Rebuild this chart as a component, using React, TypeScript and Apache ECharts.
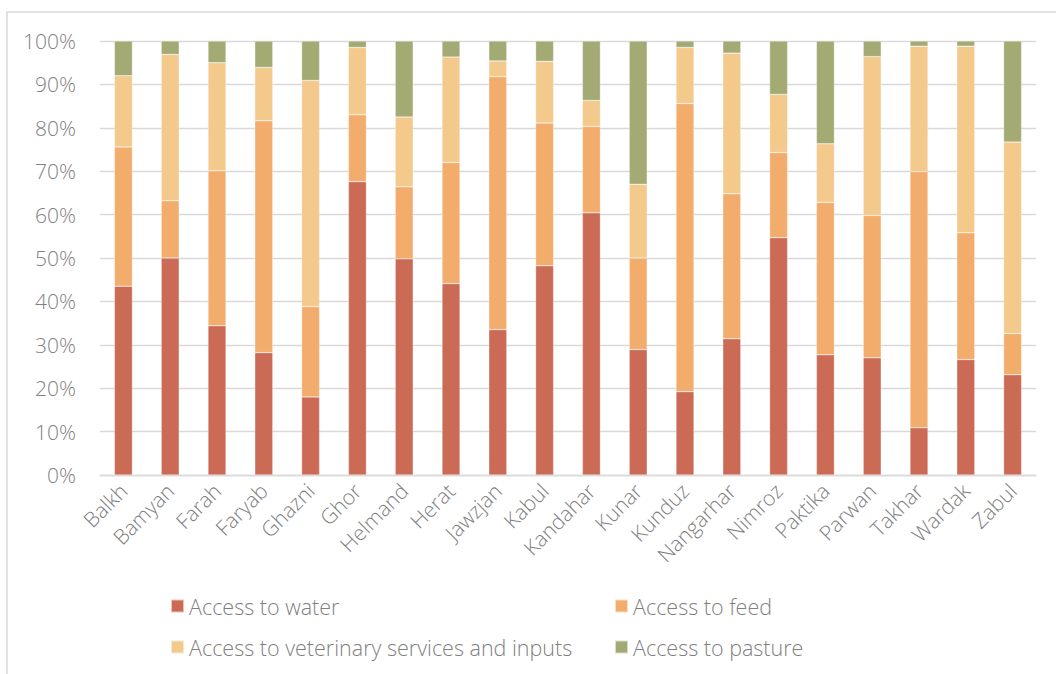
import React, { useEffect, useRef } from "react";
import * as echarts from "echarts";

const provinces = ["Balkh", "Bamyan", "Farah", "Faryab", "Ghazni", "Ghor", "Helmand", "Herat", "Jawzjan", "Kabul", "Kandahar", "Kunar", "Kunduz", "Nangarhar", "Nimroz", "Paktika", "Parwan", "Takhar", "Wardak", "Zabul"];
const water = [43.5, 50.0, 34.4, 28.2, 18.0, 67.6, 49.8, 44.1, 33.5, 48.2, 60.4, 28.9, 19.2, 31.4, 54.7, 27.7, 27.0, 10.9, 26.6, 23.1];
const feed = [32.1, 13.2, 35.7, 53.4, 20.8, 15.4, 16.6, 27.9, 58.3, 32.9, 19.9, 21.1, 66.4, 33.4, 19.6, 35.1, 32.8, 59.0, 29.2, 9.5];
const vet = [16.4, 33.7, 24.9, 12.3, 52.1, 15.5, 16.1, 24.3, 3.6, 14.2, 6.0, 17.0, 12.9, 32.4, 13.4, 13.5, 36.6, 28.9, 43.0, 44.1];
const pasture = [8.0, 3.1, 5.0, 6.1, 9.1, 1.5, 17.5, 3.7, 4.6, 4.7, 13.7, 33.0, 1.5, 2.8, 12.3, 23.7, 3.6, 1.2, 1.2, 23.3];
const seriesNames = ["Access to water", "Access to feed", "Access to veterinary services and inputs", "Access to pasture"];
const colors = ["#CB6B56", "#F2AC6C", "#F3C98C", "#A4AA74"];

const FONT = "'Open Sans', sans-serif";
const GRAY = "#7F7F7F";

export default function App() {
  const ref = useRef<HTMLDivElement>(null);
  useEffect(() => {
    if (!ref.current) return;
    const chart = echarts.init(ref.current, null, { renderer: "svg" });
    const values = [water, feed, vet, pasture];
    const legendCommon = {
      orient: "vertical",
      top: 595,
      padding: 0,
      itemGap: 19,
      itemWidth: 13,
      itemHeight: 13,
      icon: "rect",
      textStyle: { color: GRAY, fontSize: 21.5, lineHeight: 22, fontFamily: FONT, fontWeight: 300 },
    };
    chart.setOption({
      animation: false,
      color: colors,
      graphic: [
        {
          type: "rect",
          shape: { x: 7, y: 12, width: 1070, height: 700 },
          style: { fill: "none", stroke: "#D9D9D9", lineWidth: 1.5 },
          silent: true,
        },
      ],
      grid: { left: 100, right: 20, top: 41, bottom: 199 },
      legend: [
        { ...legendCommon, data: [seriesNames[0], seriesNames[2]], left: 170 },
        { ...legendCommon, data: [seriesNames[1], seriesNames[3]], left: 614 },
      ],
      xAxis: {
        type: "category",
        data: provinces,
        axisLine: { lineStyle: { color: "#D9D9D9", width: 1.3 } },
        axisTick: { show: false },
        axisLabel: {
          rotate: 45,
          color: GRAY,
          fontSize: 21,
          fontFamily: FONT,
          fontWeight: 300,
          margin: 12,
          interval: 0,
        },
      },
      yAxis: {
        type: "value",
        min: 0,
        max: 100,
        interval: 10,
        axisLine: { show: false },
        axisTick: { show: false },
        axisLabel: {
          formatter: "{value}%",
          color: GRAY,
          fontSize: 21,
          fontFamily: FONT,
          fontWeight: 300,
          margin: 24,
        },
        splitLine: { lineStyle: { color: "#D9D9D9", width: 1.3 } },
      },
      series: seriesNames.map((name, i) => ({
        name,
        type: "bar",
        stack: "total",
        barWidth: 18,
        data: values[i],
        itemStyle: { color: colors[i], borderColor: "rgba(255,255,255,0.6)", borderWidth: 0.5 },
      })),
    });
    return () => chart.dispose();
  }, []);
  return (
    <div
      ref={ref}
      style={{ position: "fixed", left: 0, top: 0, width: 1056, height: 674, background: "#fff" }}
    />
  );
}
